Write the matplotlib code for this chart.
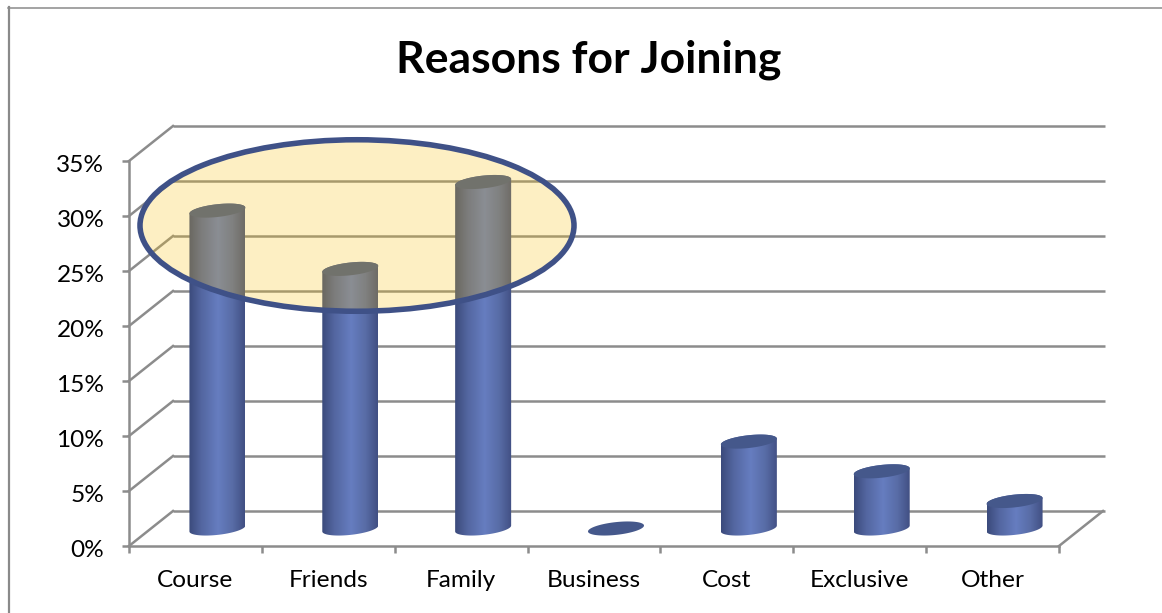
import numpy as np
import matplotlib
matplotlib.use("Agg")
import matplotlib.pyplot as plt
from matplotlib.colors import LinearSegmentedColormap
from matplotlib.lines import Line2D
from matplotlib.patches import Ellipse, PathPatch
from matplotlib.path import Path
from matplotlib.transforms import Affine2D, ScaledTranslation

categories = ["Course", "Friends", "Family", "Business", "Cost", "Exclusive", "Other"]
shares = [28.9, 23.6, 31.5, 0.0, 7.9, 5.2, 2.5]
percent_ticks = [0, 5, 10, 15, 20, 25, 30, 35]
chart_title = "Reasons for Joining"

W, H = 1162, 613
plt.rcParams["font.family"] = ["Lato", "DejaVu Sans"]

fig = plt.figure(figsize=(W / 100, H / 100), dpi=100, facecolor="white")
# Front plane of the 3-D box, in pixels from the top-left corner
L, R, T, B = 129, 1059, 161, 546
ax = fig.add_axes([L / W, 1 - B / H, (R - L) / W, (B - T) / H])
ax.set_xlim(0, 7)
ax.set_ylim(0, 35)
ax.patch.set_visible(False)

px_x = (R - L) / 7      # pixels per category
px_y = (B - T) / 35     # pixels per percentage point
depth_x = 44 / px_x     # box depth expressed in data units
depth_y = 35 / px_y
wall_overrun = 2 / px_x  # gridlines run slightly past the floor corner

GRID = "#8c8c8c"
LW = 1.8
for s in ("top", "right"):
    ax.spines[s].set_visible(False)
for s in ("left", "bottom"):
    ax.spines[s].set_color(GRID)
    ax.spines[s].set_linewidth(LW)

ax.set_yticks(percent_ticks, [f"{v}%" for v in percent_ticks])
ax.set_xticks(np.arange(8))
ax.set_xticklabels([])
ax.set_xticks(np.arange(7) + 0.5, categories, minor=True)
ax.tick_params(axis="x", which="major", length=5.2, width=LW, color=GRID)
ax.tick_params(axis="x", which="minor", length=0, pad=17.5, labelsize=17.6)
ax.tick_params(axis="y", length=5.2, width=LW, color=GRID, pad=12.5, labelsize=17.6)

# Value labels sit a little below their tick marks
nudge = ScaledTranslation(0, -2 / 72, fig.dpi_scale_trans)
for lab in ax.get_yticklabels():
    lab.set_transform(lab.get_transform() + nudge)

# Back wall gridlines and the diagonals joining them to the value axis
for v in percent_ticks:
    ax.plot([depth_x, 7 + depth_x + wall_overrun], [v + depth_y] * 2, color=GRID, lw=LW,
            clip_on=False, zorder=1, solid_capstyle="butt")
    ax.plot([0, depth_x], [v, v + depth_y], color=GRID, lw=LW,
            clip_on=False, zorder=1)
ax.plot([7, 7 + depth_x], [0, depth_y], color=GRID, lw=LW, clip_on=False, zorder=1)

# Cylinders stand halfway into the box
body_cmap = LinearSegmentedColormap.from_list(
    "body", [(0, "#3b4a7b"), (0.22, "#5366a0"), (0.52, "#667dc0"),
             (0.78, "#586ca6"), (1, "#414f83")])
gradient = np.linspace(0, 1, 256).reshape(1, -1)
half_w = 28 / px_x
half_h = 6.4 / px_y
tilt = 0.105 * (28 / px_y) / half_w   # rise of the ellipse across its width
TOP_COLOR = "#45588b"


def ring(cx, cy, start, stop, n=60):
    t = np.linspace(start, stop, n)
    xs = half_w * np.cos(t)
    return np.column_stack([cx + xs, cy + half_h * np.sin(t) + tilt * xs])


base_y = depth_y / 2
for i, value in enumerate(shares):
    cx = i + 0.5 + depth_x / 2
    top = base_y + value
    if value > 0:
        lower = ring(cx, base_y, np.pi, 2 * np.pi)
        upper = ring(cx, top, 0, np.pi)
        outline = np.vstack([lower, upper, lower[:1]])
        body = PathPatch(Path(outline), transform=ax.transData, fc="none", ec="none")
        ax.add_patch(body)
        img = ax.imshow(gradient, cmap=body_cmap, aspect="auto", zorder=2,
                        extent=[cx - half_w, cx + half_w, base_y - 3, top + 3],
                        interpolation="bilinear")
        img.set_clip_path(body)
    cap = ring(cx, top, 0, 2 * np.pi, 120)
    ax.add_patch(PathPatch(Path(cap), fc=TOP_COLOR, ec="none", zorder=3, clip_on=False))

ax.set_xlim(0, 7)
ax.set_ylim(0, 35)

# Pixel-space transform (origin top-left) for the callout and page frame
page = Affine2D().scale(1, -1).translate(0, H)

callout_fill = Ellipse((357, 225.5), 434, 171.5, transform=page, fc="#f8c010", alpha=0.25,
                       ec="none", zorder=5, clip_on=False)
callout_edge = Ellipse((357, 225.5), 434, 171.5, transform=page, fc="none", ec="#3f5187",
                       lw=4.0, zorder=6, clip_on=False)
fig.add_artist(callout_fill)
fig.add_artist(callout_edge)

fig.add_artist(Line2D([9, 9], [7, H], transform=page, color="#8a8a8a", lw=1.6))
fig.add_artist(Line2D([8, W], [7.5, 7.5], transform=page, color="#8a8a8a", lw=1.1))

fig.text(589 / W, 1 - 60 / H, chart_title, ha="center", va="center",
         fontsize=32, fontweight="bold", color="black")

fig.savefig("out.png", dpi=100)
